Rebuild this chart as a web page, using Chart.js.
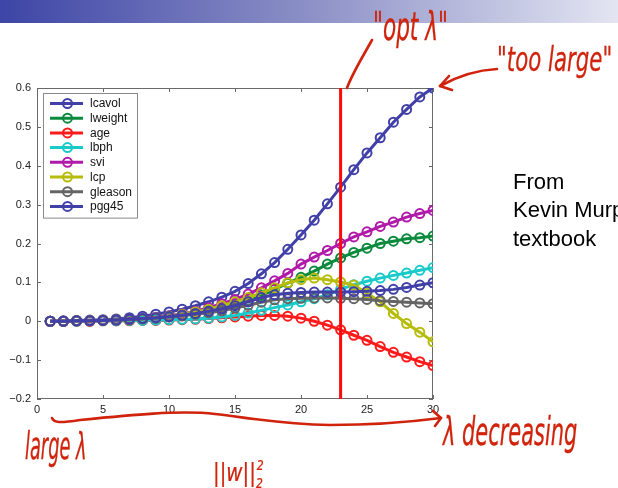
<!DOCTYPE html>
<html>
<head>
<meta charset="utf-8">
<script src="https://cdn.jsdelivr.net/npm/chart.js@4.4.1/dist/chart.umd.min.js"></script>
<style>
  html, body { margin: 0; padding: 0; background: #fff; }
  body { width: 618px; height: 488px; overflow: hidden; position: relative; font-family: "Liberation Sans", Arial, sans-serif; }
  #bar { position: absolute; left: 0; top: 0; width: 618px; height: 23px;
         background: linear-gradient(to right, #3D45A6 0%, #8C90C6 50%, #E3E5F2 100%); }
  #chartBox { position: absolute; left: 0; top: 0; width: 618px; height: 488px; }
  #note { position: absolute; left: 513px; top: 168px; font-size: 22px; line-height: 28.3px; color: #000; white-space: nowrap; }
  .ink { position: absolute; color: #D0230C; font-family: "Liberation Sans Narrow", "DejaVu Sans Condensed", "Liberation Sans", sans-serif;
         font-style: italic; white-space: nowrap; line-height: 1; transform-origin: left top; -webkit-text-stroke: 0.2px #D0230C; }
  #marks { position: absolute; left: 0; top: 0; }
</style>
</head>
<body>
<div id="bar"></div>
<div id="chartBox"><canvas id="c" width="618" height="488"></canvas></div>
<div id="note">From<br>Kevin Murphy<br>textbook</div>
<svg id="marks" width="618" height="488">
  <g fill="none" stroke="#D0230C" stroke-width="2.6" stroke-linecap="round" stroke-linejoin="round">
    <path d="M347 88 C 352 74, 362 58, 372 40"/>
    <path d="M497 69 C 478 70, 458 76, 440 86"/>
    <path d="M440 86 L 449 76 M440 86 L 452 90"/>
    <path d="M52 418 C 54 423, 60 423, 80 420 C 130 415, 180 410, 215 414 C 250 418, 280 424, 330 425 C 380 425, 410 422, 441 418"/>
    <path d="M441 418 L 433 411 M441 418 L 435 426"/>
  </g>
</svg>
<div class="ink" style="left:373px; top:8px; font-size:24px; transform: scale(1.0, 1.6);">"opt λ"</div>
<div class="ink" style="left:497px; top:43px; font-size:23px; transform: scale(1.03, 1.45);">"too large"</div>
<div class="ink" style="left:25px; top:428px; font-size:22px; transform: scale(0.9, 1.7);">large λ</div>
<div class="ink" style="left:443px; top:412px; font-size:24px; transform: scale(0.97, 1.65);">λ decreasing</div>
<div class="ink" style="left:213px; top:460px; font-size:22px; transform: scale(1.0, 1.15);">||w||<span style="font-size:12px; position:relative; top:6px;">2</span><span style="font-size:12px; position:relative; top:-9px; left:-6px;">2</span></div>

<script>
// regularization path index (1 = large lambda, 30 = small lambda)
const lambdaIndex = [1,2,3,4,5,6,7,8,9,10,11,12,13,14,15,16,17,18,19,20,21,22,23,24,25,26,27,28,29,30];

// coefficient paths
const lcavol  = [0, 0.001, 0.002, 0.003, 0.004, 0.006, 0.009, 0.013, 0.018, 0.024, 0.031, 0.040, 0.050, 0.062, 0.077, 0.097, 0.122, 0.151, 0.185, 0.222, 0.260, 0.302, 0.345, 0.390, 0.433, 0.472, 0.512, 0.545, 0.577, 0.600];
const lweight = [0, 0, 0.001, 0.001, 0.002, 0.003, 0.004, 0.006, 0.008, 0.011, 0.015, 0.020, 0.026, 0.033, 0.042, 0.053, 0.066, 0.082, 0.098, 0.113, 0.129, 0.147, 0.163, 0.177, 0.188, 0.200, 0.206, 0.212, 0.215, 0.219];
const age     = [0, 0, 0, 0, 0.001, 0.001, 0.001, 0.002, 0.002, 0.003, 0.004, 0.005, 0.007, 0.009, 0.011, 0.013, 0.015, 0.015, 0.013, 0.008, 0, -0.010, -0.022, -0.036, -0.049, -0.065, -0.080, -0.092, -0.104, -0.114];
const lbph    = [0, 0, 0, 0.001, 0.001, 0.001, 0.002, 0.002, 0.003, 0.004, 0.005, 0.006, 0.008, 0.011, 0.015, 0.021, 0.028, 0.035, 0.042, 0.050, 0.058, 0.068, 0.082, 0.094, 0.103, 0.111, 0.118, 0.124, 0.131, 0.138];
const svi     = [0, 0, 0.001, 0.001, 0.002, 0.003, 0.005, 0.007, 0.010, 0.014, 0.019, 0.026, 0.035, 0.045, 0.056, 0.070, 0.086, 0.104, 0.123, 0.147, 0.165, 0.182, 0.200, 0.217, 0.230, 0.244, 0.255, 0.268, 0.277, 0.285];
const lcp     = [0, 0, 0.001, 0.001, 0.002, 0.003, 0.004, 0.006, 0.009, 0.013, 0.018, 0.024, 0.031, 0.040, 0.050, 0.061, 0.073, 0.086, 0.099, 0.107, 0.111, 0.107, 0.101, 0.093, 0.072, 0.050, 0.020, -0.006, -0.028, -0.053];
const gleason = [0, 0, 0.001, 0.001, 0.002, 0.003, 0.004, 0.006, 0.008, 0.011, 0.014, 0.018, 0.022, 0.027, 0.034, 0.041, 0.049, 0.055, 0.058, 0.059, 0.060, 0.060, 0.059, 0.058, 0.056, 0.053, 0.051, 0.049, 0.047, 0.045];
const pgg45   = [0, 0, 0.001, 0.001, 0.002, 0.003, 0.005, 0.007, 0.009, 0.012, 0.016, 0.020, 0.026, 0.032, 0.040, 0.050, 0.061, 0.068, 0.072, 0.074, 0.075, 0.075, 0.075, 0.076, 0.077, 0.079, 0.082, 0.087, 0.093, 0.099];

const seriesNames = ['lcavol', 'lweight', 'age', 'lbph', 'svi', 'lcp', 'gleason', 'pgg45'];
const seriesValues = [lcavol, lweight, age, lbph, svi, lcp, gleason, pgg45];
const seriesColors = ['#4040A8', '#0B8A3D', '#FF1A1A', '#19CACA', '#B01AA8', '#B6BC0A', '#646464', '#4040A8'];

// chosen regularization strength and axis tick values
const optIndex = 23;
const xTicks = [0, 5, 10, 15, 20, 25, 30];
const yTicks = [-0.2, -0.1, 0, 0.1, 0.2, 0.3, 0.4, 0.5, 0.6];

const datasets = seriesNames.map((name, i) => ({
  label: name,
  data: lambdaIndex.map((x, j) => ({ x: x, y: seriesValues[i][j] })),
  borderColor: seriesColors[i],
  backgroundColor: seriesColors[i],
  borderWidth: 3,
  pointRadius: 4.5,
  pointBorderWidth: 2,
  pointBorderColor: seriesColors[i],
  pointBackgroundColor: 'rgba(255,255,255,0)',
  tension: 0,
  order: seriesNames.length - 1 - i   // later series drawn on top
}));

// vertical marker at the selected lambda
datasets.push({
  label: '',
  data: [{ x: optIndex, y: yTicks[0] }, { x: optIndex, y: yTicks[yTicks.length - 1] }],
  borderColor: '#FF0A0A',
  borderWidth: 3,
  pointRadius: 0,
  order: -1
});

const fmtY = v => {
  const r = Math.round(v * 10) / 10;
  if (r === 0) return '0';
  return r < 0 ? '\u2212' + Math.abs(r).toFixed(1) : r.toFixed(1);
};

// axes frame with inward tick marks
const framePlugin = {
  id: 'frame',
  beforeDatasetsDraw(chart) {
    const { ctx, chartArea: a, scales } = chart;
    ctx.save();
    ctx.strokeStyle = '#6a6a6a';
    ctx.lineWidth = 1;
    ctx.strokeRect(a.left + 0.5, a.top + 0.5, a.right - a.left - 1, a.bottom - a.top - 1);
    ctx.beginPath();
    xTicks.forEach(t => {
      const px = Math.round(scales.x.getPixelForValue(t)) + 0.5;
      ctx.moveTo(px, a.bottom); ctx.lineTo(px, a.bottom - 4);
      ctx.moveTo(px, a.top); ctx.lineTo(px, a.top + 4);
    });
    yTicks.forEach(t => {
      const py = Math.round(scales.y.getPixelForValue(t)) + 0.5;
      ctx.moveTo(a.left, py); ctx.lineTo(a.left + 4, py);
      ctx.moveTo(a.right, py); ctx.lineTo(a.right - 4, py);
    });
    ctx.stroke();
    ctx.restore();
  }
};

// boxed legend in the upper-left corner of the axes
const legendPlugin = {
  id: 'boxLegend',
  afterDraw(chart) {
    const { ctx, chartArea: a } = chart;
    const items = chart.data.datasets.filter(d => d.label);
    const x0 = a.left + 6, y0 = a.top + 5, w = 94, rowH = 14.7;
    const h = items.length * rowH + 7;
    ctx.save();
    ctx.fillStyle = '#fff';
    ctx.fillRect(x0, y0, w, h);
    ctx.strokeStyle = '#8a8a8a';
    ctx.lineWidth = 1;
    ctx.strokeRect(x0 + 0.5, y0 + 0.5, w, h);
    ctx.font = '12px "Liberation Sans", Arial, sans-serif';
    ctx.textBaseline = 'middle';
    items.forEach((d, i) => {
      const y = y0 + 10.5 + i * rowH;
      ctx.strokeStyle = d.borderColor;
      ctx.lineWidth = 3;
      ctx.beginPath(); ctx.moveTo(x0 + 7, y); ctx.lineTo(x0 + 40, y); ctx.stroke();
      ctx.lineWidth = 2;
      ctx.beginPath(); ctx.arc(x0 + 24.5, y, 4.5, 0, Math.PI * 2); ctx.stroke();
      ctx.fillStyle = '#111';
      ctx.fillText(d.label, x0 + 47, y + 0.5);
    });
    ctx.restore();
  }
};

new Chart(document.getElementById('c'), {
  type: 'line',
  data: { datasets },
  options: {
    responsive: false,
    animation: false,
    layout: { padding: { left: 0, top: 88, right: 185, bottom: 69 } },
    plugins: { legend: { display: false }, tooltip: { enabled: false } },
    scales: {
      x: {
        type: 'linear', min: 0, max: 30,
        afterFit: s => { s.height = 20; },
        afterBuildTicks: s => { s.ticks = xTicks.map(v => ({ value: v })); },
        grid: { display: false, drawTicks: false },
        border: { display: false },
        ticks: { padding: 4, color: '#222', font: { family: '"Liberation Sans", Arial, sans-serif', size: 11 }, maxRotation: 0 }
      },
      y: {
        type: 'linear', min: -0.2, max: 0.6,
        afterFit: s => { s.width = 37; },
        afterBuildTicks: s => { s.ticks = yTicks.map(v => ({ value: v })); },
        grid: { display: false, drawTicks: false },
        border: { display: false },
        ticks: { padding: 6, color: '#222', font: { family: '"Liberation Sans", Arial, sans-serif', size: 11 }, callback: fmtY }
      }
    }
  },
  plugins: [framePlugin, legendPlugin]
});
</script>
</body>
</html>
